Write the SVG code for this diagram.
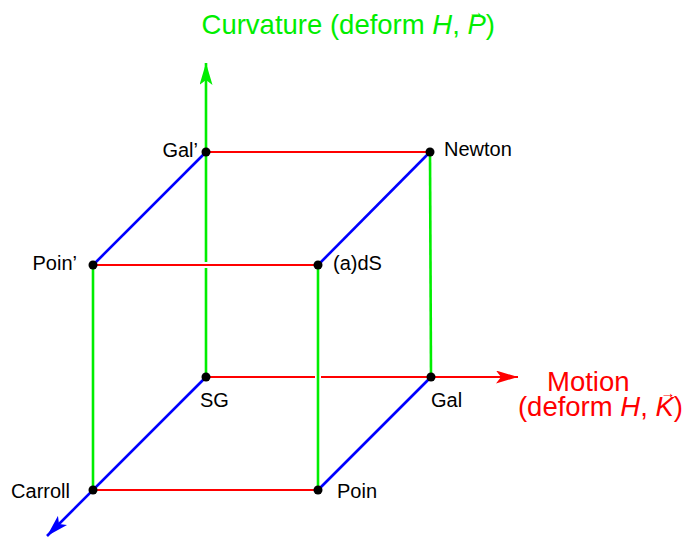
<svg xmlns="http://www.w3.org/2000/svg" width="685" height="538" viewBox="0 0 685 538">
<defs>
<style>
.g{stroke:#00ee00;stroke-width:2.6;fill:none}
.r{stroke:#ff0000;stroke-width:2.2;fill:none}
.b{stroke:#0000ff;stroke-width:2.6;fill:none}
.halo{stroke:#ffffff;stroke-width:6;fill:none}
.dot{fill:#000}
.lbl{font-family:"Liberation Sans",Arial,sans-serif;font-size:20px;fill:#000}
.big{font-family:"Liberation Sans",Arial,sans-serif;font-size:27.5px}
.vec{font-family:"Liberation Sans",Arial,sans-serif;font-size:15px;text-anchor:middle}
</style>
<marker id="ag" viewBox="0 0 22 13" refX="22" refY="6.5" markerWidth="22" markerHeight="13" markerUnits="userSpaceOnUse" orient="auto"><path d="M0,0 L22,6.5 L0,13 L5,6.5 Z" fill="#00ee00"/></marker>
<marker id="ar" viewBox="0 0 22 13" refX="22" refY="6.5" markerWidth="22" markerHeight="13" markerUnits="userSpaceOnUse" orient="auto"><path d="M0,0 L22,6.5 L0,13 L5,6.5 Z" fill="#ff0000"/></marker>
<marker id="ab" viewBox="0 0 22 13" refX="22" refY="6.5" markerWidth="22" markerHeight="13" markerUnits="userSpaceOnUse" orient="auto"><path d="M0,0 L22,6.5 L0,13 L5,6.5 Z" fill="#0000ff"/></marker>
</defs>
<rect width="685" height="538" fill="#fff"/>
<g id="connectors">
<line class="g" x1="206" y1="377" x2="206" y2="63" marker-end="url(#ag)"/>
<line class="r" x1="206" y1="377" x2="518" y2="377" marker-end="url(#ar)"/>
<line class="b" x1="206" y1="152" x2="93" y2="265"/>
<line class="b" x1="206" y1="377" x2="47" y2="536" marker-end="url(#ab)"/>
<line class="b" x1="318" y1="265" x2="430" y2="152"/>
<line class="b" x1="318" y1="490" x2="431" y2="377"/>
<line class="r" x1="206" y1="152" x2="430" y2="152"/>
<line class="r" x1="93" y1="490" x2="318" y2="490"/>
<line class="g" x1="93" y1="265" x2="93" y2="490"/>
<line class="g" x1="430" y1="152" x2="431" y2="377"/>
<line class="halo" x1="196" y1="265" x2="216" y2="265"/>
<line class="r" x1="93" y1="265" x2="318" y2="265"/>
<line class="halo" x1="318" y1="367" x2="318" y2="387"/>
<line class="g" x1="318" y1="265" x2="318" y2="490"/>
</g>
<g id="galp"><circle class="dot" cx="206" cy="152" r="4.5"/><text class="lbl" x="198" y="157" text-anchor="end">Gal’</text></g>
<g id="newton"><circle class="dot" cx="430" cy="152" r="4.5"/><text class="lbl" x="444" y="156">Newton</text></g>
<g id="poinp"><circle class="dot" cx="93" cy="265" r="4.5"/><text class="lbl" x="77" y="270" text-anchor="end">Poin’</text></g>
<g id="ads"><circle class="dot" cx="318" cy="265" r="4.5"/><text class="lbl" x="333" y="270">(a)dS</text></g>
<g id="sg"><circle class="dot" cx="206" cy="377" r="4.5"/><text class="lbl" x="200" y="407">SG</text></g>
<g id="gal"><circle class="dot" cx="431" cy="377" r="4.5"/><text class="lbl" x="431" y="407">Gal</text></g>
<g id="carroll"><circle class="dot" cx="93" cy="490" r="4.5"/><text class="lbl" x="70" y="498" text-anchor="end">Carroll</text></g>
<g id="poin"><circle class="dot" cx="318" cy="490" r="4.5"/><text class="lbl" x="337" y="498">Poin</text></g>
<g id="curvature">
<text class="big" x="495" y="34" fill="#00ee00" text-anchor="end">Curvature (deform <tspan font-style="italic">H</tspan>, <tspan font-style="italic">P</tspan>)</text>
<text class="vec" x="476" y="17" fill="#00ee00">→</text>
</g>
<g id="motion">
<text class="big" x="547" y="391" fill="#ff0000">Motion</text>
<text class="big" x="683" y="416" fill="#ff0000" text-anchor="end">(deform <tspan font-style="italic">H</tspan>, <tspan font-style="italic">K</tspan>)</text>
<text class="vec" x="668" y="398" fill="#ff0000">→</text>
</g>
</svg>
